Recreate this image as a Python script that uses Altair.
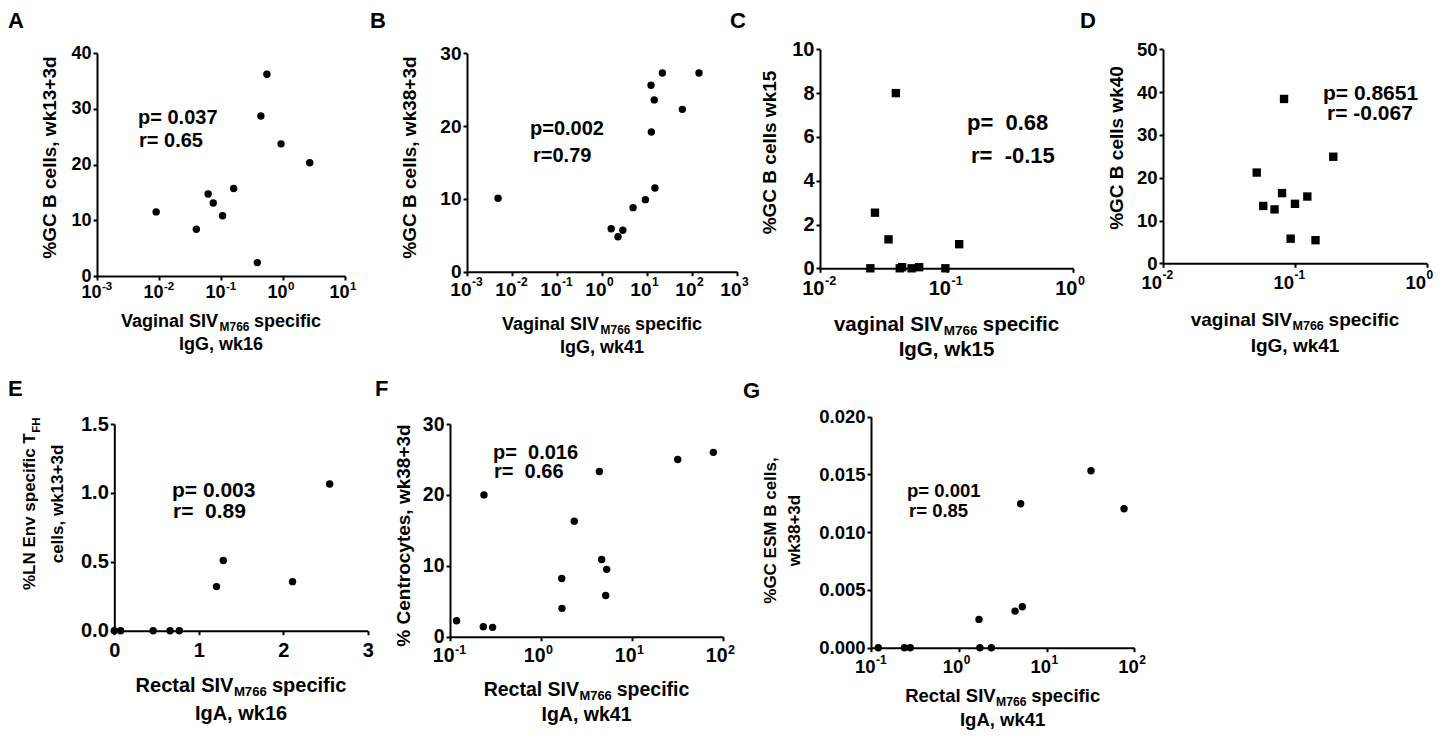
import altair as alt
import pandas as pd

# ---------------- data ----------------
A_x = [0.009, 0.04, 0.062, 0.075, 0.106, 0.16, 0.385, 0.44, 0.55, 0.93, 2.7]
A_y = [11.5, 8.4, 14.7, 13.1, 10.8, 15.7, 2.4, 28.7, 36.2, 23.7, 20.3]
B_x = [0.0049, 1.6, 2.27, 2.9, 4.9, 9.2, 12.3, 12.5, 14.5, 15.0, 22.0, 61.0, 143.0]
B_y = [10.1, 5.9, 4.8, 5.7, 8.8, 9.9, 25.6, 19.2, 23.6, 11.5, 27.3, 22.3, 27.3]
C_x = [0.025, 0.0272, 0.0348, 0.0398, 0.0427, 0.0446, 0.053, 0.0608, 0.098, 0.126]
C_y = [0.0, 2.54, 1.32, 8.0, 0.0, 0.05, 0.0, 0.05, 0.0, 1.1]
D_x = [0.0513, 0.0575, 0.070, 0.0798, 0.0826, 0.0927, 0.100, 0.124, 0.143, 0.195]
D_y = [21.2, 13.4, 12.6, 16.4, 38.4, 5.75, 13.9, 15.6, 5.4, 24.9]
E_x = [0.0, 0.075, 0.46, 0.66, 0.77, 1.21, 1.29, 2.11, 2.55]
E_y = [0.0, 0.0, 0.0, 0.0, 0.0, 0.32, 0.51, 0.356, 1.065]
F_x = [0.118, 0.232, 0.294, 0.236, 1.69, 1.70, 2.32, 4.38, 4.64, 5.27, 5.14, 31.8, 78.3]
F_y = [2.26, 1.41, 1.32, 20.0, 8.2, 4.0, 16.3, 23.3, 10.9, 9.5, 5.8, 25.0, 26.0]
G_x = [0.121, 0.24, 0.28, 1.70, 1.74, 2.35, 4.38, 5.07, 5.3, 32.1, 76.4]
G_y = [0.0, 0.0, 0.0, 0.00245, 0.0, 0.0, 0.00317, 0.01247, 0.00355, 0.01532, 0.01203]

# ---------------- tick values ----------------
A_xticks = [1e-3, 1e-2, 1e-1, 1e0, 1e1]
A_yticks = [0, 10, 20, 30, 40]
B_xticks = [1e-3, 1e-2, 1e-1, 1e0, 1e1, 1e2, 1e3]
B_yticks = [0, 10, 20, 30]
C_xticks = [1e-2, 1e-1, 1e0]
C_yticks = [0, 2, 4, 6, 8, 10]
D_xticks = [1e-2, 1e-1, 1e0]
D_yticks = [0, 10, 20, 30, 40, 50]
E_xticks = [0, 1, 2, 3]
E_yticks = [0, 0.5, 1.0, 1.5]
F_xticks = [1e-1, 1e0, 1e1, 1e2]
F_yticks = [0, 10, 20, 30]
G_xticks = [1e-1, 1e0, 1e1, 1e2]
G_yticks = [0, 0.005, 0.010, 0.015, 0.020]

# ---------------- texts ----------------
LETTERS = ["A", "B", "C", "D", "E", "F", "G"]
Y_TITLES = {
    "A": "%GC B cells, wk13+3d",
    "B": "%GC B cells, wk38+3d",
    "C": "%GC B cells wk15",
    "D": "%GC B cells wk40",
    "F": "% Centrocytes, wk38+3d",
    "G": ["%GC ESM B cells,", "wk38+3d"],
}
E_YTITLE = ["%LN Env specific T", "FH", "cells, wk13+3d"]
X_PREFIX = {"A": "Vaginal SIV", "B": "Vaginal SIV", "C": "vaginal SIV", "D": "vaginal SIV",
            "E": "Rectal SIV", "F": "Rectal SIV", "G": "Rectal SIV"}
X_SUB = "M766"
X_LINE2 = {"A": "IgG, wk16", "B": "IgG, wk41", "C": "IgG, wk15", "D": "IgG, wk41",
           "E": "IgA, wk16", "F": "IgA, wk41", "G": "IgA, wk41"}
NB = "\u00a0"
P_TXT = {"A": "p= 0.037", "B": "p=0.002", "C": "p=" + NB + NB + "0.68", "D": "p= 0.8651",
         "E": "p= 0.003", "F": "p=" + NB + NB + "0.016", "G": "p= 0.001"}
R_TXT = {"A": "r= 0.65", "B": "r=0.79", "C": "r=" + NB + NB + "-0.15", "D": "r= -0.067",
         "E": "r=" + NB + " 0.89", "F": "r=" + NB + NB + "0.66", "G": "r= 0.85"}

# ---------------- layout / style ----------------
FONT = "Liberation Sans"
M = 8
W, H = 1426, 722
ONE = pd.DataFrame({"k": [0]})

AW = {" ": 278, NB: 278, "%": 889, "+": 584, "=": 584, "-": 333, ",": 278, ".": 278,
      "a": 556, "b": 611, "c": 556, "d": 611, "e": 556, "f": 333, "g": 611, "h": 611, "i": 278,
      "k": 556, "l": 278, "m": 889, "n": 611, "o": 611, "p": 611, "r": 389, "s": 556, "t": 333,
      "v": 556, "w": 778, "y": 556,
      "A": 722, "B": 722, "C": 722, "E": 667, "F": 611, "G": 778, "H": 722, "I": 278, "L": 611,
      "M": 833, "N": 722, "R": 722, "S": 667, "T": 611, "V": 667}


def tw(s, fs):
    return sum(AW.get(ch, 556) for ch in s) * fs / 1000.0


def txt(s, x, y, fs, align="left", angle=None):
    kw = dict(text=s, font=FONT, fontSize=fs, fontWeight="bold", color="black",
              align=align, baseline="alphabetic")
    if angle is not None:
        kw["angle"] = angle
    return alt.Chart(ONE).mark_text(**kw).encode(x=alt.value(x - M), y=alt.value(y - M))


PANELS = [
    dict(key="A", xs=A_x, ys=A_y, shape="circle", xtype="log", xdom=[1e-3, 1e1], xt=A_xticks,
         ydom=[0, 40], yt=A_yticks, yfmt="d", box=(97, 345, 53, 276), lfs=18, efs=11.5, loff=4, xpad=3.5,
         ytx=55.6, yty=157, ytfs=19, xfs=18, b1=327, b2=350, pr=(138, 124, 139, 147, 20),
         letter=(8, 28)),
    dict(key="B", xs=B_x, ys=B_y, shape="circle", xtype="log", xdom=[1e-3, 1e3], xt=B_xticks,
         ydom=[0, 30], yt=B_yticks, yfmt="d", box=(467, 737, 53.3, 271.7), lfs=19, efs=12, loff=4, xpad=4.5,
         ytx=415.6, yty=157, ytfs=19, xfs=18, b1=330, b2=353, pr=(530, 135, 533, 162, 20),
         letter=(370, 28)),
    dict(key="C", xs=C_x, ys=C_y, shape="square", xtype="log", xdom=[1e-2, 1e0], xt=C_xticks,
         ydom=[0, 10], yt=C_yticks, yfmt="d", box=(820, 1073, 49.3, 268.3), lfs=20, efs=12.5, loff=4, xpad=6,
         ytx=775.6, yty=152, ytfs=19, xfs=20.5, b1=331, b2=356, pr=(967, 130, 971, 163, 22),
         letter=(730, 28)),
    dict(key="D", xs=D_x, ys=D_y, shape="square", xtype="log", xdom=[1e-2, 1e0], xt=D_xticks,
         ydom=[0, 50], yt=D_yticks, yfmt="d", box=(1163, 1427, 49.3, 263.3), lfs=18.5, efs=12, loff=-1.5, xpad=6,
         ytx=1122, yty=147.5, ytfs=19, xfs=19, b1=326, b2=352, pr=(1323, 100, 1327, 120, 21),
         letter=(1080, 28)),
    dict(key="E", xs=E_x, ys=E_y, shape="circle", xtype="linear", xdom=[0, 3], xt=E_xticks,
         ydom=[0, 1.5], yt=E_yticks, yfmt=".1f", box=(114.3, 367.7, 424, 630.7), lfs=20, efs=12, loff=0, xpad=6,
         ytx=None, yty=None, ytfs=17, xfs=20, b1=692, b2=720, pr=(172, 497, 173, 518, 21),
         letter=(8, 396)),
    dict(key="F", xs=F_x, ys=F_y, shape="circle", xtype="log", xdom=[1e-1, 1e2], xt=F_xticks,
         ydom=[0, 30], yt=F_yticks, yfmt="d", box=(450, 723, 424, 636.7), lfs=19.5, efs=12.5, loff=4, xpad=6,
         ytx=409, yty=535, ytfs=19, xfs=19.5, b1=696, b2=721, pr=(493, 459, 494, 478, 20),
         letter=(375, 396)),
    dict(key="G", xs=G_x, ys=G_y, shape="circle", xtype="log", xdom=[1e-1, 1e2], xt=G_xticks,
         ydom=[0, 0.02], yt=G_yticks, yfmt=".3f", box=(871, 1134.3, 416.7, 647.7), lfs=18.5, efs=12, loff=4, xpad=6,
         ytx=775.4, yty=530, ytfs=17, xfs=18.5, b1=702, b2=725.5, pr=(907, 497, 909, 517, 18.5),
         letter=(743, 398)),
]


def make_panel(p):
    x0, x1, y0, y1 = p["box"]
    df = pd.DataFrame({"x": p["xs"], "y": p["ys"]})
    if p["xtype"] == "log":
        xsc = alt.Scale(type="log", domain=p["xdom"], range=[x0 - M, x1 - M], nice=False)
    else:
        xsc = alt.Scale(type="linear", domain=p["xdom"], range=[x0 - M, x1 - M], nice=False, zero=False)
    ysc = alt.Scale(type="linear", domain=p["ydom"], range=[y1 - M, y0 - M], nice=False, zero=False)
    common = dict(tickSize=4, tickWidth=2, tickColor="black", domainWidth=2, domainColor="black",
                  grid=False, labelFont=FONT, labelFontSize=p["lfs"], labelFontWeight="bold",
                  labelColor="black", labelFlush=False, labelOverlap=False)
    xoff = (y1 - M) - H
    if p["xtype"] == "log":
        xaxis = alt.Axis(orient="bottom", offset=xoff, values=p["xt"], labelExpr="'10'",
                         labelAlign="right", labelOffset=p["loff"], labelPadding=p["xpad"],
                         title=None, **common)
    else:
        xaxis = alt.Axis(orient="bottom", offset=xoff, values=p["xt"], format="d",
                         labelPadding=p["xpad"], title=None, **common)
    yargs = dict(orient="left", offset=-(x0 - M), values=p["yt"], format=p["yfmt"],
                 labelPadding=2, **common)
    if p["key"] in Y_TITLES:
        yargs.update(title=Y_TITLES[p["key"]], titleFont=FONT, titleFontSize=p["ytfs"],
                     titleFontWeight="bold", titleColor="black", titleAngle=270, titleAlign="center",
                     titleBaseline="alphabetic", titleX=p["ytx"] - x0, titleY=p["yty"] - M,
                     titleLineHeight=24)
    else:
        yargs.update(title=None)
    yaxis = alt.Axis(**yargs)
    base = alt.Chart(df)
    if p["shape"] == "circle":
        mk = base.mark_circle(size=55, color="black", opacity=1)
    else:
        mk = base.mark_square(size=70, color="black", opacity=1)
    pts = mk.encode(x=alt.X("x:Q", scale=xsc, axis=xaxis), y=alt.Y("y:Q", scale=ysc, axis=yaxis))
    if p["xtype"] != "log":
        return pts
    epad = p["xpad"] + 0.5
    expo_axis = alt.Axis(orient="bottom", offset=xoff, values=p["xt"],
                         labelExpr="'' + round(log(datum.value) / LN10)",
                         labelAlign="left", labelOffset=p["loff"] + 0.5, labelPadding=epad,
                         tickSize=0, ticks=False, domain=False, grid=False,
                         labelFont=FONT, labelFontSize=p["efs"], labelFontWeight="bold",
                         labelColor="black", labelFlush=False, labelOverlap=False, title=None)
    expo = base.mark_circle(opacity=0).encode(x=alt.X("x:Q", scale=xsc, axis=expo_axis))
    return alt.layer(pts, expo).resolve_axis(x="independent")


def xtitle(p):
    x0, x1 = p["box"][0], p["box"][1]
    cx = (x0 + x1) / 2
    fs = p["xfs"]
    sfs = round(fs * 0.66, 1)
    prefix = X_PREFIX[p["key"]]
    w1 = tw(prefix, fs)
    ws = tw(X_SUB, sfs)
    wsp = tw(" ", fs)
    w3 = tw("specific", fs)
    start = cx - (w1 + ws + wsp + w3) / 2
    return [
        txt(prefix, start, p["b1"], fs),
        txt(X_SUB, start + w1 + 0.5, p["b1"] + 4, sfs),
        txt("specific", start + w1 + ws + wsp, p["b1"], fs),
        txt(X_LINE2[p["key"]], cx, p["b2"], fs, align="center"),
    ]


layers = []
texts = []
for p in PANELS:
    layers.append(make_panel(p))
    texts.extend(xtitle(p))
    px_, py_, rx_, ry_, pfs = p["pr"]
    texts.append(txt(P_TXT[p["key"]], px_, py_, pfs))
    texts.append(txt(R_TXT[p["key"]], rx_, ry_, pfs))
    lx, ly = p["letter"]
    texts.append(txt(p["key"], lx, ly, 22))

# rotated y title of panel E (with subscript)
efs_main, efs_sub = 17, 11.5
w_e1 = tw(E_YTITLE[0], efs_main)
w_es = tw(E_YTITLE[1], efs_sub)
e_center = 504
e_start = e_center + (w_e1 + w_es) / 2
texts.append(txt(E_YTITLE[0], 35, e_start, efs_main, angle=270))
texts.append(txt(E_YTITLE[1], 40, e_start - w_e1 - 0.5, efs_sub, angle=270))
texts.append(txt(E_YTITLE[2], 62.5, e_center, efs_main, align="center", angle=270))

chart = (
    alt.layer(*layers, *texts)
    .resolve_scale(x="independent", y="independent")
    .properties(width=W, height=H, autosize=alt.AutoSizeParams(type="none"), padding=0)
    .configure_view(stroke=None)
)

chart.save("out.html", embed_options={"renderer": "svg", "actions": False})
